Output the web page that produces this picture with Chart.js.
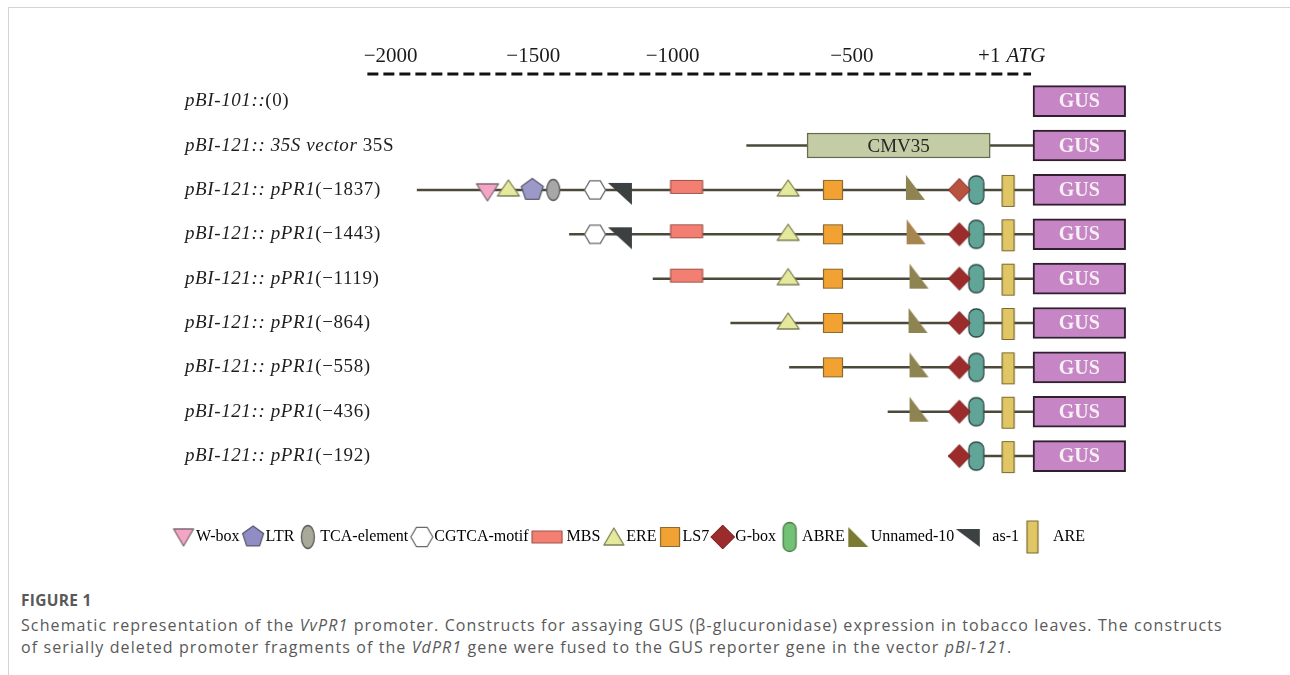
<!DOCTYPE html>
<html><head><meta charset="utf-8">
<script src="https://cdn.jsdelivr.net/npm/chart.js@4.4.1/dist/chart.umd.min.js"></script>
<style>
html,body{margin:0;padding:0;background:#fff;}
body{width:1290px;height:675px;position:relative;overflow:hidden;}
#frame{position:absolute;left:8px;top:7px;right:0;bottom:0;border-top:1px solid #d4d4d4;border-left:1px solid #d4d4d4;}
#wrap{position:absolute;left:0;top:0;width:1290px;height:560px;}
#cap{position:absolute;left:21px;top:589px;width:1265px;font-family:"Open Sans",sans-serif;color:#595959;}
#cap .t{font-weight:700;font-size:15.5px;line-height:22px;letter-spacing:0.3px;}
#cap .d{font-size:16px;line-height:22px;letter-spacing:1.1px;margin-top:3px;white-space:nowrap;}
</style></head><body>
<div id="frame"></div>
<div id="wrap"><canvas id="c" width="1290" height="560"></canvas></div>
<div id="cap"><div class="t">FIGURE 1</div><div class="d">Schematic representation of the <i>VvPR1</i> promoter. Constructs for assaying GUS (β-glucuronidase) expression in tobacco leaves. The constructs<br>of serially deleted promoter fragments of the <i>VdPR1</i> gene were fused to the GUS reporter gene in the vector <i>pBI-121</i>.</div></div>
<script>
// ---------------- DATA ----------------
const constructItalic = ['pBI-101::','pBI-121:: 35S vector','pBI-121:: pPR1','pBI-121:: pPR1','pBI-121:: pPR1','pBI-121:: pPR1','pBI-121:: pPR1','pBI-121:: pPR1','pBI-121:: pPR1'];
const constructRoman = ['(0)',' 35S','(−1837)','(−1443)','(−1119)','(−864)','(−558)','(−436)','(−192)'];
const backboneStart = [null,-858,-1851,-1392,-1140,-906,-729,-432,-249];
const backboneEnd = 6;
const gusRange = [6, 285];
const cmv35Range = [-675, -123];
const cmv35Row = 1;
const rulerRange = [-2000, 0];
const tickPositions = [-1930,-1500,-1080,-540,-126];
const tickLabels = ['−2000','−1500','−1000','−500','+1'];
const tickSuffix = ['','','','','ATG'];

const wBoxSites = [[2,-1638]];
const ltrSites = [[2,-1503]];
const tcaSites = [[2,-1440]];
const cgtcaSites = [[2,-1314],[3,-1314]];
const mbsSites = [[2,-1038],[3,-1038],[4,-1038]];
const ereSites = [[2,-1575],[2,-732],[3,-732],[4,-732],[5,-732]];
const ls7Sites = [[2,-597],[3,-597],[4,-597],[5,-597],[6,-597]];
const gboxSites = [[2,-216],[3,-216],[4,-216],[5,-216],[6,-216],[7,-216],[8,-216]];
const abreSites = [[2,-165],[3,-165],[4,-165],[5,-165],[6,-165],[7,-165],[8,-165]];
const unnamedSites = [[2,-350],[3,-348],[4,-339],[5,-342],[6,-339],[7,-339]];
const as1Sites = [[2,-1239],[3,-1239]];
const areSites = [[2,-69],[3,-69],[4,-69],[5,-69],[6,-69],[7,-69],[8,-69]];

const motifNames = ['W-box','LTR','TCA-element','CGTCA-motif','MBS','ERE','LS7','G-box','ABRE','Unnamed-10','as-1','ARE'];
const motifSites = [wBoxSites,ltrSites,tcaSites,cgtcaSites,mbsSites,ereSites,ls7Sites,gboxSites,abreSites,unnamedSites,as1Sites,areSites];

// ---------------- STYLE / ICONS ----------------
function makeIcon(w,h,draw){const c=document.createElement('canvas');c.width=w;c.height=h;const g=c.getContext('2d');g.translate(w/2,h/2);g.lineJoin='round';draw(g);return c;}
function shape(g,path,fill,stroke,lw){g.beginPath();path(g);g.closePath();if(fill){g.fillStyle=fill;g.fill();}if(stroke){g.lineWidth=lw||1.2;g.strokeStyle=stroke;g.stroke();}}
const poly=(pts,dx)=>g=>{dx=dx||0;g.moveTo(pts[0][0]+dx,pts[0][1]);for(let i=1;i<pts.length;i++)g.lineTo(pts[i][0]+dx,pts[i][1]);};
const regPoly=(n,r,rot)=>Array.from({length:n},(_,k)=>[r*Math.cos(rot+k*2*Math.PI/n),r*Math.sin(rot+k*2*Math.PI/n)]);
const rect=(x,y,w,h)=>g=>g.rect(x,y,w,h);
const ell=(rx,ry,dx)=>g=>g.ellipse(dx||0,0,rx,ry,0,0,Math.PI*2);
const rrect=(w,h,r,dx)=>g=>g.roundRect(-w/2+(dx||0),-h/2,w,h,r);

const gboxShape = fill=>makeIcon(26,28,g=>shape(g,poly([[-11,0],[0,-11.5],[11,0],[0,11.5]]),fill,'#7b2222',1));
const unnamedShape = fill=>makeIcon(22,34,g=>shape(g,poly([[-9,-15],[-9,10],[10,10]]),fill,null));
const chartIcons = {
  'W-box': makeIcon(26,26,g=>shape(g,poly([[-11,-6],[11,-6],[0,11]]),'#f4a5c6','#7c6a72',1.3)),
  'LTR': makeIcon(26,26,g=>shape(g,poly(regPoly(5,11.5,-Math.PI/2)),'#9c99c9','#5d5c6e',1.3)),
  'TCA-element': makeIcon(18,26,g=>shape(g,ell(6.5,10.5),'#a7a7a7','#5d5d5d',1.3)),
  'CGTCA-motif': makeIcon(26,26,g=>shape(g,poly(regPoly(6,10.5,0)),'#ffffff','#6a6a6a',1.3)),
  'MBS': makeIcon(36,24,g=>shape(g,rect(-16,-9.5,32,13),'#f37f73','#a0544c',1.2)),
  'ERE': makeIcon(26,26,g=>shape(g,poly([[-11,6],[11,6],[0,-10]]),'#e5e99c','#7f7f58',1.3)),
  'LS7': makeIcon(24,24,g=>shape(g,rect(-9.5,-9.5,19,19),'#f1a233','#8a6a30',1.2)),
  'G-box': [gboxShape('#b7533f'),gboxShape('#9c2c2b'),gboxShape('#9c2c2b'),gboxShape('#9c2c2b'),gboxShape('#9c2c2b'),gboxShape('#9c2c2b'),gboxShape('#9c2c2b')],
  'ABRE': makeIcon(19,32,g=>shape(g,rrect(15,28,7),'#60a597','#2f4a46',1.3)),
  'Unnamed-10': [unnamedShape('#8d8452'),unnamedShape('#a8844f'),unnamedShape('#8d8452'),unnamedShape('#8d8452'),unnamedShape('#8d8452'),unnamedShape('#8d8452')],
  'as-1': makeIcon(28,34,g=>shape(g,poly([[-12,-7],[12,-7],[12,15]]),'#3c4040',null)),
  'ARE': makeIcon(16,36,g=>shape(g,rect(-6,-14.5,12,31),'#e1c666','#7b6a30',1.2))
};
const legendIcons = {
  'W-box': makeIcon(24,22,g=>shape(g,poly([[-10,-8],[10,-8],[0,9]]),'#f4a5c6','#7c6a72',1.3)),
  'LTR': makeIcon(26,26,g=>shape(g,poly(regPoly(5,11,-Math.PI/2)),'#8f8dc4','#5d5c6e',1.3)),
  'TCA-element': makeIcon(18,28,g=>shape(g,ell(6.5,11.5),'#a9a99a','#5d5d5d',1.3)),
  'CGTCA-motif': makeIcon(26,26,g=>shape(g,poly(regPoly(6,11,0)),'#ffffff','#6a6a6a',1.3)),
  'MBS': makeIcon(44,18,g=>shape(g,rect(-10,-6,30,12),'#f37f73','#a0544c',1.2)),
  'ERE': makeIcon(24,22,g=>shape(g,poly([[-10,8],[10,8],[0,-9]]),'#e5e99c','#7f7f58',1.3)),
  'LS7': makeIcon(24,24,g=>shape(g,rect(-9.5,-9.5,19,19),'#f1a233','#8a6a30',1.2)),
  'G-box': makeIcon(28,28,g=>shape(g,poly([[-12,0],[0,-12],[12,0],[0,12]]),'#9c2c2b','#7b2222',1)),
  'ABRE': makeIcon(18,34,g=>shape(g,rrect(13,29,6.5),'#73c077','#4c7c4c',1.3)),
  'Unnamed-10': makeIcon(24,24,g=>shape(g,poly([[-10,-10],[-10,10],[10,10]]),'#7b7a32',null)),
  'as-1': makeIcon(28,24,g=>shape(g,poly([[-12,-8],[12,-8],[12,10]]),'#3d4141',null)),
  'ARE': makeIcon(16,36,g=>shape(g,rect(-5.5,-16,11,32),'#e1c666','#7b6a30',1.2))
};
const legendText = {'MBS':'   MBS','as-1':'   as-1','ARE':'  ARE'};

const RULER_Y = -0.61;
const LABEL_X = 185;
const serif = '"Liberation Serif", "Times New Roman", serif';

// ---------------- DATASETS ----------------
const datasets = [];
motifNames.forEach((name,i)=>{
  datasets.push({type:'scatter',label:name,data:motifSites[i].map(([r,x])=>({x:x,y:r})),
    pointStyle:chartIcons[name],pointRadius:5,order:1});
});
datasets.push({type:'bar',label:'GUS',indexAxis:'y',grouped:false,
  data:constructRoman.map((_,r)=>({x:gusRange,y:r})),
  backgroundColor:'#c685c4',borderColor:'#2f1f2f',borderWidth:2,borderSkipped:false,barThickness:31,maxBarThickness:31,order:2,
  boxLabel:'GUS',boxFont:'bold 20px '+serif,boxColor:'#f6eff3'});
datasets.push({type:'bar',label:'CMV35',indexAxis:'y',grouped:false,
  data:[{x:cmv35Range,y:cmv35Row}],
  backgroundColor:'#c4cca6',borderColor:'#676a50',borderWidth:1.5,borderSkipped:false,barThickness:25,maxBarThickness:25,order:2,
  boxLabel:'CMV35',boxFont:'19px '+serif,boxColor:'#262626'});
backboneStart.forEach((s,r)=>{
  if(s===null)return;
  datasets.push({type:'scatter',label:'line'+r,showLine:true,data:[{x:s,y:r},{x:backboneEnd,y:r}],
    borderColor:'#4b4a3a',borderWidth:2.5,pointRadius:0,order:4});
});
datasets.push({type:'scatter',label:'ruler',showLine:true,data:rulerRange.map(x=>({x:x,y:RULER_Y})),
  borderColor:'#111111',borderWidth:3,borderDash:[11,5],pointRadius:0,order:4,clip:false});

// ---------------- PLUGIN ----------------
const textPlugin = {
  id:'textPlugin',
  afterDatasetsDraw(chart){
    const ctx=chart.ctx;
    ctx.save();
    chart.data.datasets.forEach((ds,i)=>{
      if(!ds.boxLabel)return;
      const meta=chart.getDatasetMeta(i);
      ctx.font=ds.boxFont;ctx.fillStyle=ds.boxColor;ctx.textAlign='center';ctx.textBaseline='middle';
      meta.data.forEach(el=>ctx.fillText(ds.boxLabel,(el.x+el.base)/2,el.y+1));
    });
    ctx.restore();
  },
  afterDraw(chart){
    const ctx=chart.ctx, xs=chart.scales.x, ys=chart.scales.y;
    ctx.save();
    ctx.textBaseline='middle';ctx.textAlign='left';ctx.fillStyle='#1e1e1e';
    if('letterSpacing' in ctx) ctx.letterSpacing='0.6px';
    constructItalic.forEach((it,r)=>{
      const y=ys.getPixelForValue(r);
      ctx.font='italic 19px '+serif;
      ctx.fillText(it,LABEL_X,y);
      const w=ctx.measureText(it).width;
      ctx.font='19px '+serif;
      ctx.fillText(constructRoman[r],LABEL_X+w,y);
    });
    if('letterSpacing' in ctx) ctx.letterSpacing='0px';
    const tf=xs.options.ticks.font.size;
    tickSuffix.forEach((s,i)=>{
      if(!s)return;
      ctx.font=tf+'px '+serif;
      const w=ctx.measureText(tickLabels[i]).width;
      const px=xs.getPixelForValue(tickPositions[i]);
      ctx.font='italic '+tf+'px '+serif;
      ctx.fillStyle='#1a1a1a';
      ctx.fillText(s,px+w/2+6,xs.bottom-tf*1.2/2);
    });
    ctx.restore();
  }
};

new Chart(document.getElementById('c'),{
  type:'scatter',
  data:{datasets:datasets},
  options:{
    responsive:false,animation:false,events:[],
    layout:{padding:{left:0,right:26,top:44,bottom:5}},
    plugins:{
      tooltip:{enabled:false},
      legend:{display:true,position:'bottom',
        labels:{usePointStyle:true,pointStyleWidth:9,padding:9,color:'#161616',font:{family:serif,size:16},
          generateLabels:()=>motifNames.map((n,i)=>({text:legendText[n]||n,pointStyle:legendIcons[n],fillStyle:'rgba(0,0,0,0)',strokeStyle:'rgba(0,0,0,0)',lineWidth:0,hidden:false,datasetIndex:i}))
        }}
    },
    scales:{
      x:{type:'linear',position:'top',min:-3089,max:702,offset:false,
        grid:{display:false,drawTicks:false},border:{display:false},
        afterBuildTicks:a=>{a.ticks=tickPositions.map(v=>({value:v}));},
        ticks:{autoSkip:false,maxRotation:0,padding:0,color:'#1a1a1a',font:{family:serif,size:21},callback:(v,i)=>tickLabels[i]}},
      y:{type:'linear',display:false,reverse:true,min:-0.72,max:9.44,offset:false}
    }
  },
  plugins:[textPlugin]
});
</script>
</body></html>
